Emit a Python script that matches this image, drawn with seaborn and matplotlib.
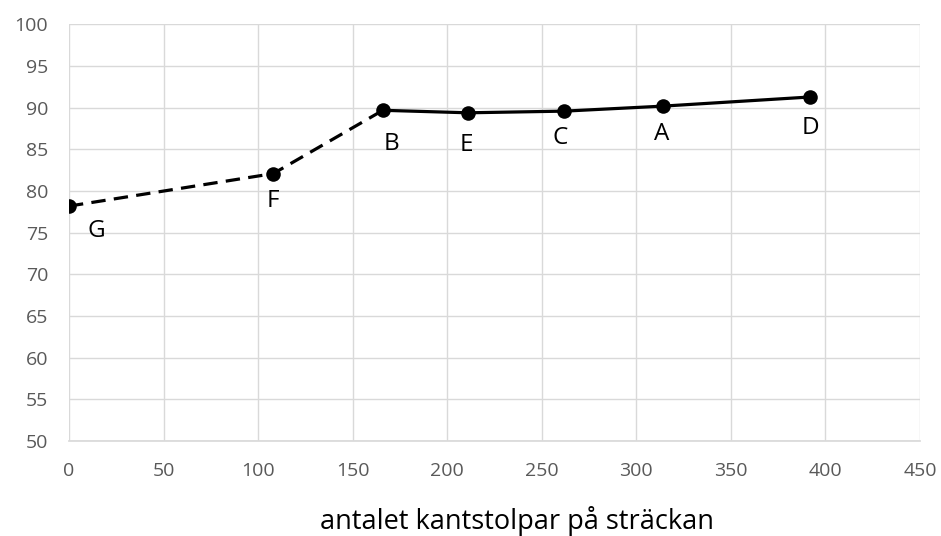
import matplotlib
matplotlib.use('Agg')
import matplotlib.pyplot as plt
import seaborn as sns
import pandas as pd

# data
labels = ['G', 'F', 'B', 'E', 'C', 'A', 'D']
kantstolpar = [0, 108, 166, 211, 262, 314, 392]
values = [78.2, 82.1, 89.7, 89.4, 89.6, 90.2, 91.3]
dashed_part = ['G', 'F', 'B']
solid_part = ['B', 'E', 'C', 'A', 'D']

x_ticks = list(range(0, 451, 50))
y_ticks = list(range(50, 101, 5))
x_label = 'antalet kantstolpar på sträckan'

# label offsets in points (layout only)
label_offsets = {'G': (20, -18), 'F': (0, -20), 'B': (6, -24), 'E': (-1, -23),
                 'C': (-3, -19), 'A': (-1, -20), 'D': (0, -22)}

df = pd.DataFrame({'label': labels, 'x': kantstolpar, 'y': values})

sns.set_theme(style="white")
plt.rcParams['font.family'] = ['Open Sans', 'DejaVu Sans']

fig = plt.figure(figsize=(9.41, 5.36), dpi=100)
ax = fig.add_axes([0.0733, 0.1772, 0.9044, 0.7771])

dashed = df[df['label'].isin(dashed_part)]
solid = df[df['label'].isin(solid_part)]
sns.lineplot(data=dashed, x='x', y='y', ax=ax, color='black', linewidth=2.3, sort=False)
ax.lines[-1].set_dashes([4.5, 2.6])
sns.lineplot(data=solid, x='x', y='y', ax=ax, color='black', linewidth=2.3, sort=False)
sns.scatterplot(data=df, x='x', y='y', ax=ax, color='black', s=110,
                edgecolor='black', linewidth=0, zorder=5)

for lab, xv, yv in zip(labels, kantstolpar, values):
    dx, dy = label_offsets[lab]
    ax.annotate(lab, (xv, yv), xytext=(dx, dy), textcoords='offset points',
                ha='center', va='center', fontsize=17.5, color='black')

ax.set_xlim(0, 450)
ax.set_ylim(50, 100)
ax.set_xticks(x_ticks)
ax.set_yticks(y_ticks)
ax.grid(True, color='#d9d9d9', linewidth=1)
for side in ['top', 'left', 'right']:
    ax.spines[side].set_visible(False)
ax.spines['bottom'].set_color('#d9d9d9')
ax.tick_params(axis='both', length=0, labelsize=14, labelcolor='#595959')
ax.tick_params(axis='x', pad=15)
ax.tick_params(axis='y', pad=15)
ax.set_xlabel(x_label, fontsize=19.5, color='black')
ax.xaxis.set_label_coords(0.526, -0.155)
ax.set_ylabel('')

fig.savefig('out.png', dpi=100)
